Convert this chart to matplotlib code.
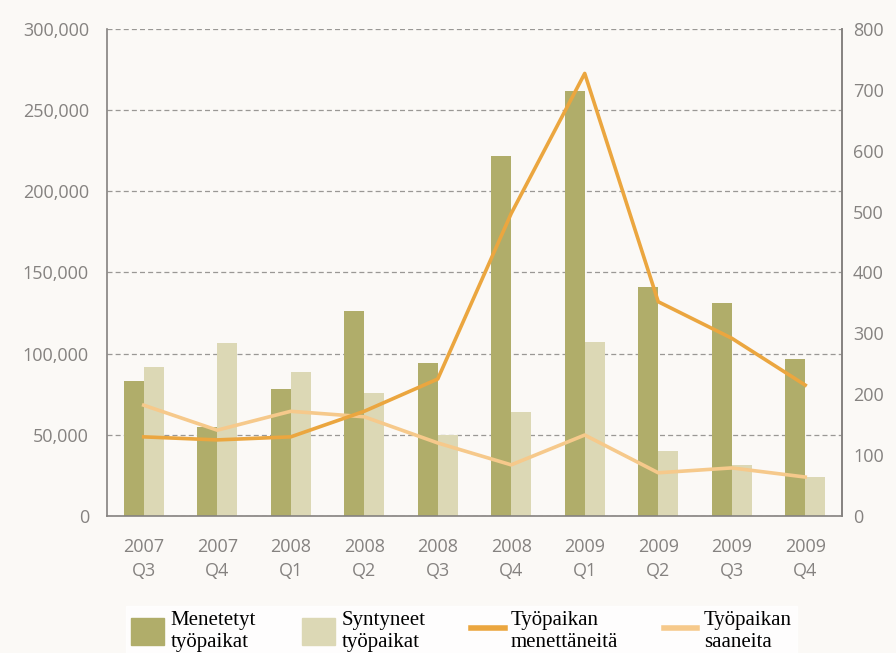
import numpy as np
import matplotlib.pyplot as plt
from matplotlib.patches import Patch
from matplotlib.lines import Line2D
from matplotlib.ticker import FuncFormatter

quarters = ['2007\nQ3', '2007\nQ4', '2008\nQ1', '2008\nQ2', '2008\nQ3',
            '2008\nQ4', '2009\nQ1', '2009\nQ2', '2009\nQ3', '2009\nQ4']
menetetyt = [83000, 55000, 78000, 126000, 94000, 222000, 262000, 141000, 131000, 97000]
syntyneet = [92000, 106500, 89000, 76000, 50000, 64000, 107000, 40000, 31500, 24000]
menettaneita = [130, 125, 130, 172, 225, 497, 727, 352, 292, 215]
saaneita = [182, 141, 172, 163, 120, 84, 133, 71, 79, 64]

bg = '#fbf9f6'
dark_bar = '#b0ad6a'
light_bar = '#dcd8b5'
dark_line = '#eba63f'
light_line = '#f6c98b'
grey = '#858280'

fig = plt.figure(figsize=(8.96, 6.53), dpi=100, facecolor=bg)
ax = fig.add_axes([0.1194, 0.2098, 0.8203, 0.7458])
ax.set_facecolor(bg)
x = np.arange(len(quarters))
w = 0.27
ax.bar(x - w / 2, menetetyt, w, color=dark_bar, zorder=2)
ax.bar(x + w / 2, syntyneet, w, color=light_bar, zorder=2)
ax.set_xlim(-0.5, len(quarters) - 0.5)
ax.set_ylim(0, 300000)
ax.set_yticks(np.arange(0, 300001, 50000))
ax.yaxis.set_major_formatter(FuncFormatter(lambda v, p: f'{int(v):,}'))
ax.set_xticks(x)
ax.set_xticklabels(quarters, linespacing=1.4)
ax.grid(axis='y', linestyle=(0, (4, 2.5)), color='#9a9895', linewidth=0.9, zorder=0)
ax.spines['top'].set_visible(False)
for s in ['left', 'bottom', 'right']:
    ax.spines[s].set_color(grey)
    ax.spines[s].set_linewidth(1.2)
ax.tick_params(length=0, colors=grey, labelsize=13, pad=13)
ax.tick_params(axis='x', pad=16)

ax2 = ax.twinx()
ax2.plot(x, saaneita, color=light_line, linewidth=2.6, zorder=3)
ax2.plot(x, menettaneita, color=dark_line, linewidth=2.6, zorder=4)
ax2.set_ylim(0, 800)
ax2.set_yticks(np.arange(0, 801, 100))
ax2.tick_params(length=0, colors=grey, labelsize=13, pad=8)
for s in ['top', 'left', 'bottom']:
    ax2.spines[s].set_visible(False)
ax2.spines['right'].set_color(grey)
ax2.spines['right'].set_linewidth(1.2)

for a in (ax, ax2):
    for lab in a.get_yticklabels() + a.get_xticklabels():
        lab.set_family('Open Sans')

handles = [Patch(color=dark_bar), Patch(color=light_bar),
           Line2D([], [], color=dark_line, linewidth=4),
           Line2D([], [], color=light_line, linewidth=4)]
labels = ['Menetetyt\ntyöpaikat', 'Syntyneet\ntyöpaikat',
          'Työpaikan\nmenettäneitä', 'Työpaikan\nsaaneita']
leg = fig.legend(handles, labels, loc='lower center', bbox_to_anchor=(0.515, -0.022),
                 ncol=4, frameon=True, facecolor='white', edgecolor='white',
                 prop={'family': 'Liberation Serif', 'size': 15},
                 handlelength=1.6, handleheight=1.6, handletextpad=0.3,
                 columnspacing=2.2, borderpad=0.25, labelspacing=0.1)
leg.get_frame().set_boxstyle('square', pad=0)

fig.savefig('out.png', dpi=100, facecolor=bg)
